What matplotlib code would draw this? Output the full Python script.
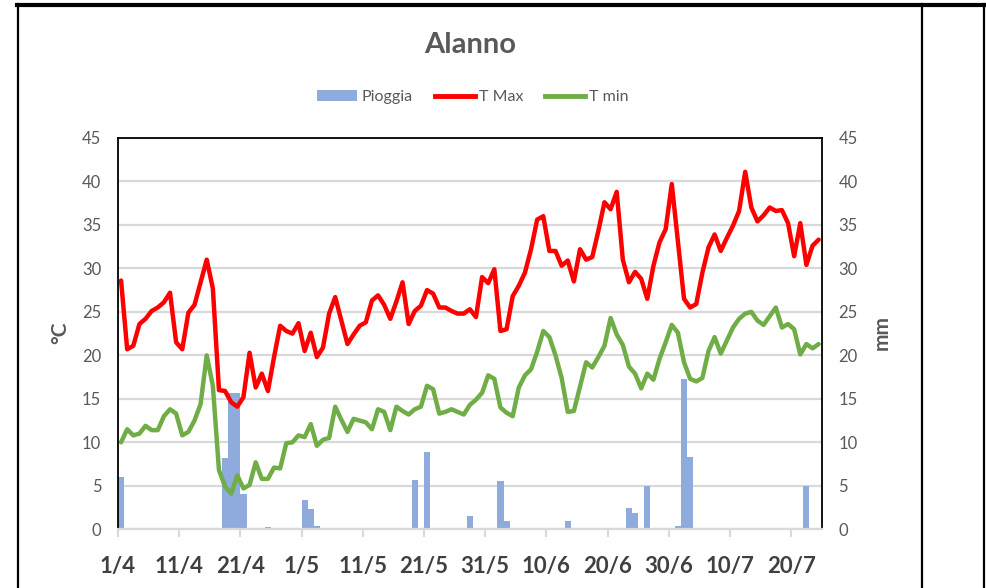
import numpy as np
import matplotlib
matplotlib.use("Agg")
import matplotlib.pyplot as plt
from matplotlib.lines import Line2D
from matplotlib.patches import Patch

plt.rcParams['font.family'] = ['Lato', 'DejaVu Sans']

# ---- data (1/4 .. 24/7, one value per day) ----
tick_labels = ["1/4", "11/4", "21/4", "1/5", "11/5", "21/5", "31/5",
               "10/6", "20/6", "30/6", "10/7", "20/7"]

t_max = [28.6, 20.7, 21.1, 23.6, 24.2, 25.1, 25.5, 26.1, 27.2, 21.5,
         20.7, 24.9, 25.8, 28.4, 31.0, 27.7, 16.0, 15.9, 14.6, 14.1,
         15.2, 20.3, 16.3, 17.9, 15.9, 19.8, 23.4, 22.8, 22.5, 23.7,
         20.5, 22.6, 19.8, 20.9, 24.8, 26.7, 24.0, 21.3, 22.4, 23.4,
         23.8, 26.3, 26.9, 25.8, 24.2, 26.2, 28.4, 23.6, 25.1, 25.7,
         27.5, 27.1, 25.5, 25.5, 25.1, 24.8, 24.8, 25.3, 24.4, 29.0,
         28.3, 29.9, 22.8, 23.0, 26.8, 28.0, 29.5, 32.2, 35.6, 36.0,
         32.0, 32.0, 30.3, 30.9, 28.5, 32.2, 31.0, 31.3, 34.3, 37.6,
         36.8, 38.8, 31.0, 28.4, 29.6, 28.8, 26.5, 30.3, 33.0, 34.5,
         39.7, 33.1, 26.5, 25.5, 25.9, 29.5, 32.4, 33.9, 32.0, 33.5,
         34.9, 36.6, 41.1, 37.0, 35.4, 36.1, 37.0, 36.6, 36.7, 35.2,
         31.4, 35.2, 30.4, 32.6, 33.3]

t_min = [10.0, 11.5, 10.8, 11.0, 11.9, 11.4, 11.4, 13.0, 13.8, 13.3,
         10.8, 11.2, 12.5, 14.4, 20.0, 16.5, 6.8, 4.9, 4.1, 6.2,
         4.7, 5.1, 7.7, 5.8, 5.8, 7.1, 7.0, 9.9, 10.0, 10.8,
         10.6, 12.1, 9.6, 10.3, 10.5, 14.1, 12.6, 11.2, 12.7, 12.5,
         12.3, 11.5, 13.8, 13.5, 11.4, 14.1, 13.6, 13.2, 13.8, 14.1,
         16.5, 16.1, 13.3, 13.5, 13.8, 13.5, 13.2, 14.3, 14.9, 15.7,
         17.7, 17.3, 14.0, 13.4, 13.0, 16.3, 17.7, 18.4, 20.4, 22.8,
         22.1, 20.0, 17.4, 13.5, 13.6, 16.4, 19.2, 18.6, 19.8, 21.1,
         24.3, 22.4, 21.2, 18.7, 17.9, 16.2, 17.9, 17.2, 19.6, 21.5,
         23.5, 22.6, 19.2, 17.3, 17.0, 17.4, 20.5, 22.1, 20.2, 21.7,
         23.2, 24.2, 24.8, 25.0, 24.0, 23.5, 24.5, 25.5, 23.2, 23.6,
         23.0, 20.1, 21.3, 20.8, 21.3]

rain_days = [0, 16, 17, 18, 19, 20, 24, 25, 30, 31, 32, 48, 50, 57, 58,
             62, 63, 73, 83, 84, 86, 91, 92, 93, 112]
rain_mm = [6.0, 0.15, 8.2, 15.7, 15.7, 4.1, 0.3, 0.1, 3.4, 2.3, 0.35, 5.7,
           8.9, 1.5, 0.1, 5.5, 1.0, 0.9, 2.5, 1.9, 5.0, 0.4, 17.3, 8.3, 5.0]

n_days = len(t_max)
x = np.arange(n_days) + 0.5
rain = np.zeros(n_days)
rain[rain_days] = rain_mm

# ---- figure ----
W, H = 986, 588
fig = plt.figure(figsize=(W / 100, H / 100), dpi=100)
fig.patch.set_facecolor('white')

L, R, T, B = 118, 821.7, 137.9, 529.3
ax = fig.add_axes([L / W, 1 - B / H, (R - L) / W, (B - T) / H])
ax2 = ax.twinx()

grid_c = '#d9d9d9'
txt_c = '#595959'

ax2.bar(x, rain, width=1.0, color='#8FAADC', linewidth=0, zorder=2)
ax2.set_ylim(0, 45)
ax2.set_yticks(np.arange(0, 46, 5))
ax2.yaxis.grid(True, color=grid_c, linewidth=1.6, zorder=0)
ax2.set_axisbelow(True)
for s in ax2.spines.values():
    s.set_visible(False)
ax2.tick_params(axis='y', length=0, pad=12, labelsize=12, labelcolor=txt_c)

ax.set_zorder(ax2.get_zorder() + 1)
ax.patch.set_visible(False)
ax.plot(x, t_max, color='#FF0000', linewidth=3.2, solid_joinstyle='round',
        solid_capstyle='round')
ax.plot(x, t_min, color='#70AD47', linewidth=3.2, solid_joinstyle='round',
        solid_capstyle='round')
ax.set_xlim(0, n_days)
ax.set_ylim(0, 45)
ax.set_yticks(np.arange(0, 46, 5))
ax.set_xticks(np.arange(0, 111, 10))
ax.set_xticklabels(tick_labels)
ax.tick_params(axis='y', length=0, pad=12, labelsize=12, labelcolor=txt_c)
ax.tick_params(axis='x', direction='out', length=6, width=1.5, color=grid_c,
               pad=13, labelsize=16, labelcolor='#404040')
for lab in ax.get_xticklabels():
    lab.set_fontweight('bold')
for side in ('left', 'top', 'right'):
    ax.spines[side].set_color('black')
    ax.spines[side].set_linewidth(1.3)
ax.spines['bottom'].set_color(grid_c)
ax.spines['bottom'].set_linewidth(1.6)

# axis titles
fig.text(60 / W, 1 - 333 / H, '°C', rotation=90, ha='center', va='center',
         fontsize=15, fontweight='bold', color=txt_c)
fig.text(882 / W, 1 - 333 / H, 'mm', rotation=90, ha='center', va='center',
         fontsize=15, fontweight='bold', color=txt_c)

# title
fig.text(470 / W, 1 - 45 / H, 'Alanno', ha='center', va='center',
         fontsize=21, fontweight='bold', color=txt_c)

# legend
handles = [Patch(facecolor='#8FAADC', edgecolor='none'),
           Line2D([], [], color='#FF0000', linewidth=3.5),
           Line2D([], [], color='#70AD47', linewidth=3.5)]
leg = fig.legend(handles, ['Pioggia', 'T Max', 'T min'], loc='center',
                 bbox_to_anchor=(473 / W, 1 - 97 / H), ncol=3, frameon=False,
                 fontsize=11.5, handlelength=2.5, handletextpad=0.25,
                 columnspacing=1.4)
for t in leg.get_texts():
    t.set_color(txt_c)

# outer cell/frame lines
def vline(px, lw):
    fig.add_artist(Line2D([px / W, px / W], [0, 1 - 4 / H], color='black',
                          linewidth=lw, transform=fig.transFigure))

fig.add_artist(Line2D([17 / W, 1], [1 - 5 / H, 1 - 5 / H], color='black',
                      linewidth=3, transform=fig.transFigure))
vline(18, 1.6)
vline(922, 1.6)
vline(984, 1.6)

fig.savefig('out.png', dpi=100, facecolor='white')
